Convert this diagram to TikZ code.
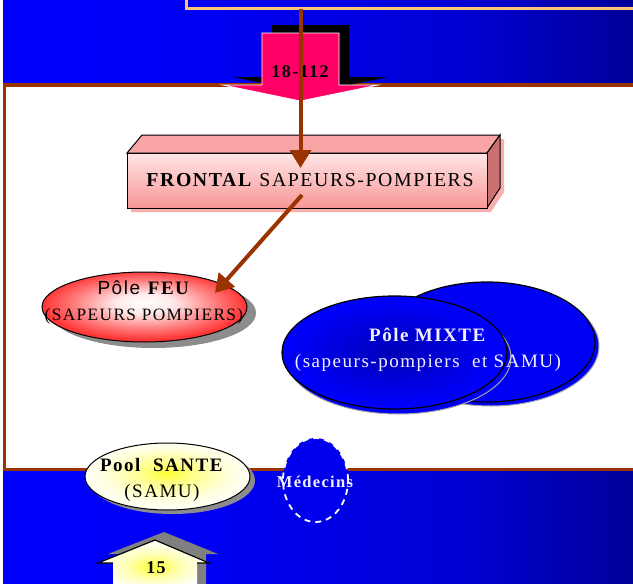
\documentclass[tikz,border=0pt]{standalone}
\usepackage{fontspec}
\setmainfont{Liberation Serif}[LetterSpace=8]
\newfontfamily\sansface{Liberation Sans}[LetterSpace=8]
\usetikzlibrary{shapes.geometric,arrows.meta,shadows}

\definecolor{panelbrown}{RGB}{153,51,0}
\definecolor{frametan}{RGB}{255,196,120}
\definecolor{alertpink}{RGB}{255,0,102}
\definecolor{poleblue}{RGB}{0,0,245}
\definecolor{medblue}{RGB}{0,0,238}
\definecolor{boxtop}{RGB}{250,165,165}
\definecolor{boxside}{RGB}{200,112,112}
\definecolor{boxshadow}{RGB}{250,175,175}
\definecolor{facetop}{RGB}{255,230,230}
\definecolor{facebottom}{RGB}{248,150,150}
\definecolor{paletext}{RGB}{240,240,255}

% background band: bright blue on the left, darker towards the right
\pgfdeclarehorizontalshading{skyband}{100bp}{rgb(0bp)=(0,0,1); rgb(25bp)=(0,0,1); rgb(45bp)=(0,0,0.94); rgb(62bp)=(0,0,0.82); rgb(75bp)=(0,0,0.6); rgb(100bp)=(0,0,0.6)}
% fills of the poles
\pgfdeclareradialshading{feuglow}{\pgfpoint{0bp}{3bp}}{rgb(0bp)=(1,1,1); rgb(7bp)=(1,0.92,0.92); rgb(17bp)=(1,0.5,0.5); rgb(25bp)=(1,0.2,0.2); rgb(50bp)=(1,0.2,0.2)}
\pgfdeclareradialshading{santeglow}{\pgfpoint{0bp}{3bp}}{rgb(0bp)=(1,1,0.2); rgb(8bp)=(1,1,0.55); rgb(20bp)=(1,1,0.9); rgb(25bp)=(1,1,0.95); rgb(50bp)=(1,1,0.95)}
\pgfdeclareradialshading{mixteglow}{\pgfpoint{0bp}{0bp}}{rgb(0bp)=(0,0,0.72); rgb(25bp)=(0,0,1); rgb(50bp)=(0,0,1)}
\pgfdeclareradialshading{houseglow}{\pgfpoint{0bp}{-2bp}}{rgb(0bp)=(1,1,0.2); rgb(12bp)=(1,1,0.7); rgb(25bp)=(1,1,1); rgb(50bp)=(1,1,1)}

\begin{document}
\begin{tikzpicture}[x=1pt,y=-1pt,
  txt/.style={font=\fontsize{19}{26}\selectfont, align=center, inner sep=0pt},
  feed/.style={draw=panelbrown, line width=4pt, -{Triangle[width=21pt,length=18pt]}},
  oval/.style={ellipse, inner sep=0pt},
  greyshadow/.style 2 args={drop shadow={shadow xshift=#1, shadow yshift=#2, fill=black!45, opacity=1}},
  blueshadow/.style 2 args={drop shadow={shadow xshift=#1, shadow yshift=#2, fill=poleblue, draw=black!35, line width=1pt, opacity=1}},
]
\useasboundingbox (0,0) rectangle (633,584);
\clip (0,0) rectangle (633,584);
\shade[shading=skyband] (3,0) rectangle (633,584);

% white operations panel
\fill[white] (4.5,85) rectangle (640,469.5);
\draw[panelbrown, line width=3.5pt] (640,85) -- (4.5,85) -- (4.5,469.5) -- (640,469.5);

% call-centre frame at the top
\draw[frametan, line width=3pt] (186.5,-5) -- (186.5,8.5) -- (640,8.5);
\coordinate (callsrc) at (300.5,8.5);

% 18-112 block arrow with its shadow
\fill[black] (272,25) -- (349,25) -- (349,77) -- (388,77) -- (310.5,93) -- (233,77) -- (272,77) -- cycle;
\filldraw[fill=alertpink, draw=white, line width=0.8pt] (262,33) -- (339,33) -- (339,85) -- (378,85) -- (300.5,101) -- (223,85) -- (262,85) -- cycle;
\node[font=\bfseries\fontsize{18}{18}\selectfont] (num18) at (300,72) {18-112};

% FRONTAL box in perspective
\fill[boxshadow] (131,157) -- (146,139) -- (504,139) -- (504,192) -- (491,212) -- (131,212) -- cycle;
\filldraw[fill=boxtop, draw=black, line width=1pt] (127,153) -- (142,135) -- (500,135) -- (487,153) -- cycle;
\filldraw[fill=boxside, draw=black, line width=1pt] (487,153) -- (500,135) -- (500,188) -- (487,208) -- cycle;
\node[draw=black, line width=1pt, top color=facetop, bottom color=facebottom,
      minimum width=360pt, minimum height=55pt, inner sep=0pt,
      font=\fontsize{19.8}{19.8}\selectfont] (frontal) at (307,180.5)
      {\hspace*{6pt}\textbf{FRONTAL} SAPEURS-POMPIERS};

% Pôle FEU
\node[oval, minimum width=205pt, minimum height=70pt, shade, shading=feuglow,
      draw=black, line width=1pt, greyshadow={9pt}{-6pt}] (feu) at (144.5,307) {};
\node[txt] (feutext) at (144,302) {{\sansface Pôle} \textbf{FEU}\\{\fontsize{17.3}{26}\selectfont(SAPEURS POMPIERS)}};

% Pôle MIXTE: two overlapping ovals
\node[oval, minimum width=216pt, minimum height=120pt, fill=poleblue,
      draw=black, line width=1.2pt, blueshadow={4pt}{-4pt}] (mixteback) at (487,342) {};
\node[oval, minimum width=225pt, minimum height=113pt, shade, shading=mixteglow,
      draw=black, line width=1.2pt, blueshadow={4pt}{-5pt}] (mixte) at (394.5,352.5) {};
\node[txt, text=paletext] (mixtetext) at (428,350) {\textbf{Pôle MIXTE}\\(sapeurs-pompiers\ \ et SAMU)};

% Pool SANTE
\node[oval, minimum width=165pt, minimum height=67pt, shade, shading=santeglow,
      draw=black, line width=1pt, greyshadow={5pt}{-4pt}] (sante) at (167.5,476.5) {};
\node[txt] (santetext) at (162,480) {\textbf{Pool\ \ SANTE}\\(SAMU)};

% Médecins
\node[oval, minimum width=65pt, minimum height=84pt, fill=medblue, draw=white,
      line width=1.8pt, dash pattern=on 6pt off 5pt] (medecins) at (315.5,480) {};
\node[font=\bfseries\fontsize{16.5}{16.5}\selectfont, text=paletext, inner sep=0pt] (medtext) at (315,482) {Médecins};

% 15 entry arrow with its shadow
\fill[black!50] (164,532) -- (218,554) -- (206,554) -- (206,590) -- (122,590) -- (122,554) -- (108,554) -- cycle;
\shade[shading=houseglow] (155,540) -- (209,563) -- (197,563) -- (197,590) -- (113,590) -- (113,563) -- (98,563) -- cycle;
\draw[black, line width=1.2pt] (113,563) -- (98,563) -- (155,540) -- (209,563) -- (197,563);
\node[font=\bfseries\fontsize{18}{18}\selectfont] (num15) at (156,568) {15};

% brown feed arrows
\coordinate (frontin) at (300.5,168);
\coordinate (frontout) at (302,195);
\coordinate (feuin) at (215,293);
\draw[feed] (callsrc) -- (frontin);
\draw[feed] (frontout) -- (feuin);
\end{tikzpicture}
\end{document}
